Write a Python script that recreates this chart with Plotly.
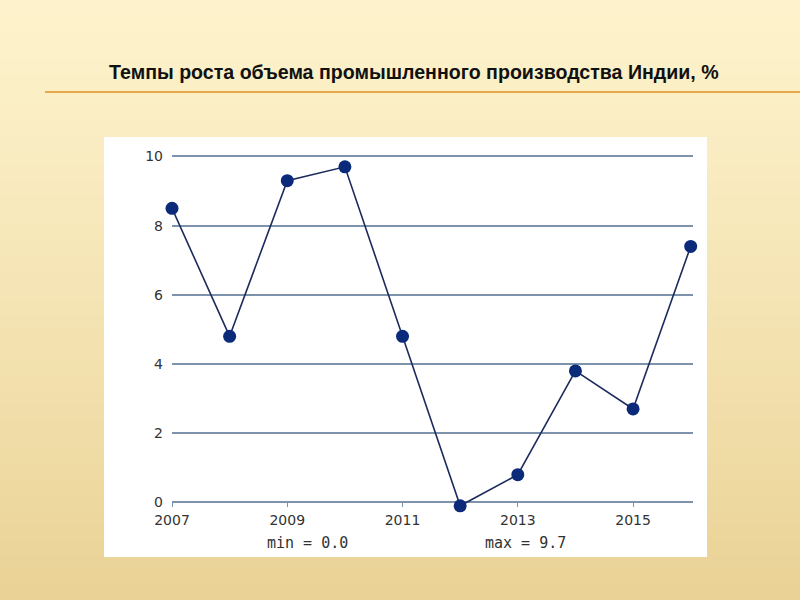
import plotly.graph_objects as go

years = [2007, 2008, 2009, 2010, 2011, 2012, 2013, 2014, 2015, 2016]
growth = [8.5, 4.8, 9.3, 9.7, 4.8, -0.1, 0.8, 3.8, 2.7, 7.4]
title_text = "Темпы роста объема промышленного производства Индии, %"
min_label = "min = 0.0"
max_label = "max = 9.7"
x_ticks = [2007, 2009, 2011, 2013, 2015]
y_ticks = [0, 2, 4, 6, 8, 10]

W, H = 800, 600
Y_LO, Y_HI = -0.25, 10.1
UNIT = 34.6
Y0PX = 502.0
MT = int(round(Y0PX - Y_HI * UNIT))
MB = int(round(H - (Y0PX - Y_LO * UNIT)))
ML, MR = 172, 107
PW, PH = W - ML - MR, H - MT - MB


def px(x):
    return (x - ML) / PW


def py(y):
    return (H - MB - y) / PH


def lerp(c1, c2, t):
    return "#%02x%02x%02x" % tuple(int(round(a + (b - a) * t)) for a, b in zip(c1, c2))


shapes = []
top_c = (253, 242, 203)
bot_c = (234, 210, 150)
nb = 40
for i in range(nb):
    y0 = H * i / nb
    y1 = H * (i + 1) / nb + 1
    t = (i / (nb - 1)) ** 1.2
    shapes.append(dict(type="rect", xref="paper", yref="paper", x0=px(-2), x1=px(W + 2),
                       y0=py(y1), y1=py(y0 - (2 if i == 0 else 0)), fillcolor=lerp(top_c, bot_c, t),
                       line=dict(width=0), layer="below"))
# white chart panel
shapes.append(dict(type="rect", xref="paper", yref="paper", x0=px(104), x1=px(707),
                   y0=py(557), y1=py(137), fillcolor="white", line=dict(width=0), layer="below"))
# orange rule under title
shapes.append(dict(type="line", xref="paper", yref="paper", x0=px(45), x1=px(800),
                   y0=py(92), y1=py(92), line=dict(color="#E8A94C", width=2)))

fig = go.Figure()
fig.add_trace(go.Scatter(
    x=years, y=growth, mode="lines+markers",
    line=dict(color="#1C2B5C", width=1.6),
    marker=dict(color="#0B2A7A", size=13, symbol="circle", line=dict(width=0)),
    cliponaxis=False, showlegend=False,
))

fig.update_layout(
    width=W, height=H,
    margin=dict(l=ML, r=MR, t=MT, b=MB, pad=0),
    paper_bgcolor="#FDF2CB", plot_bgcolor="rgba(0,0,0,0)",
    shapes=shapes,
    annotations=[
        dict(text=title_text, xref="paper", yref="paper", x=px(414), y=py(72),
             xanchor="center", yanchor="middle", showarrow=False,
             font=dict(family="Liberation Sans, Arial, sans-serif", size=19.6, color="#111111", weight="bold")),
        dict(text=min_label, xref="paper", yref="paper", x=px(307), y=py(543),
             xanchor="center", yanchor="middle", showarrow=False,
             font=dict(family="DejaVu Sans Mono, monospace", size=15, color="#333333")),
        dict(text=max_label, xref="paper", yref="paper", x=px(525), y=py(543),
             xanchor="center", yanchor="middle", showarrow=False,
             font=dict(family="DejaVu Sans Mono, monospace", size=15, color="#333333")),
    ],
    xaxis=dict(range=[2007, 2016.04], tickvals=x_ticks, ticktext=[str(v) for v in x_ticks],
               showgrid=False, zeroline=False, showline=False,
               anchor="free", position=(0 - Y_LO) / (Y_HI - Y_LO),
               ticks="outside", ticklen=4, tickcolor="#7D93AB", tickwidth=1,
               tickfont=dict(family="DejaVu Sans, Verdana, sans-serif", size=14, color="#333333"),
               ticklabelstandoff=1),
    yaxis=dict(range=[Y_LO, Y_HI], tickvals=y_ticks, ticktext=[str(v) for v in y_ticks],
               showgrid=True, gridcolor="#7D93AB", gridwidth=2,
               zeroline=True, zerolinecolor="#7D93AB", zerolinewidth=2, showline=False,
               ticks="", ticklabelstandoff=8,
               tickfont=dict(family="DejaVu Sans, Verdana, sans-serif", size=14, color="#333333")),
)

fig.write_html("out.html", config={"displayModeBar": False},
               post_script="document.body.style.margin='0';document.body.style.overflow='hidden';")
